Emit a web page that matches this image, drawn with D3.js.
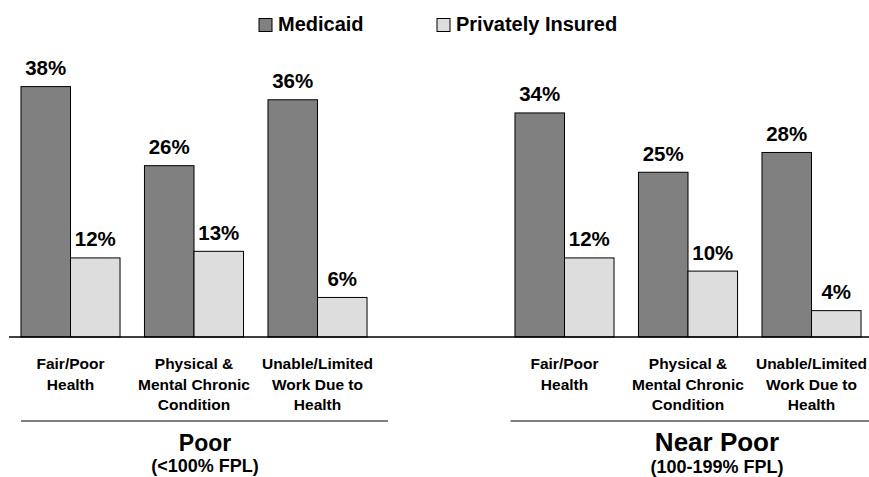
<!DOCTYPE html>
<html>
<head>
<meta charset="utf-8">
<script src="https://cdn.jsdelivr.net/npm/d3@7"></script>
<style>
  html, body { margin: 0; padding: 0; background: #ffffff; }
  svg { display: block; }
  text { font-family: "Liberation Sans", Arial, Helvetica, sans-serif; font-weight: bold; fill: #000; }
</style>
</head>
<body>
<svg id="chart" width="869" height="477"></svg>
<script>
// ---- data ----
const categories = [
  "Fair/Poor|Health",
  "Physical &|Mental Chronic|Condition",
  "Unable/Limited|Work Due to|Health",
  "",
  "Fair/Poor|Health",
  "Physical &|Mental Chronic|Condition",
  "Unable/Limited|Work Due to|Health"
];
const seriesNames = ["Medicaid", "Privately Insured"];
const medicaid = [38, 26, 36, null, 34, 25, 28];
const privatelyInsured = [12, 13, 6, null, 12, 10, 4];
const groupTitles = ["Poor", "Near Poor"];
const groupSubtitles = ["(<100% FPL)", "(100-199% FPL)"];

// ---- layout ----
const W = 869, H = 477;
const svg = d3.select("#chart");
const colors = { "Medicaid": "#808080", "Privately Insured": "#dddddd" };

const idx = d3.range(categories.length);
const x0 = d3.scaleBand().domain(idx).range([8.75, 873.25]).paddingInner(0.198).paddingOuter(0.099);
const x1 = d3.scaleBand().domain(seriesNames).range([0, x0.bandwidth()]);
const y = d3.scaleLinear().domain([0, 40]).range([337, 73.4]);

const seriesValues = { "Medicaid": medicaid, "Privately Insured": privatelyInsured };

// bars
const bars = [];
idx.forEach(i => {
  seriesNames.forEach(s => {
    const v = seriesValues[s][i];
    if (v != null) bars.push({ i, s, v });
  });
});

svg.append("g").selectAll("rect").data(bars).join("rect")
  .attr("x", d => x0(d.i) + x1(d.s))
  .attr("y", d => y(d.v))
  .attr("width", x1.bandwidth())
  .attr("height", d => y(0) - y(d.v))
  .attr("fill", d => colors[d.s])
  .attr("stroke", "#000")
  .attr("stroke-width", 1);

// value labels
svg.append("g").selectAll("text").data(bars).join("text")
  .attr("x", d => x0(d.i) + x1(d.s) + x1.bandwidth() / 2)
  .attr("y", d => y(d.v) - 11.5)
  .attr("text-anchor", "middle")
  .style("font-size", "20.5px")
  .text(d => d.v + "%");

// baseline axis
svg.append("line")
  .attr("x1", 9).attr("x2", W)
  .attr("y1", y(0)).attr("y2", y(0))
  .attr("stroke", "#000").attr("stroke-width", 1.5);

// category labels
const catG = svg.append("g");
idx.forEach(i => {
  if (!categories[i]) return;
  const lines = categories[i].split("|");
  const t = catG.append("text")
    .attr("text-anchor", "middle")
    .style("font-size", "15.5px");
  lines.forEach((ln, k) => {
    t.append("tspan")
      .attr("x", x0(i) + x0.bandwidth() / 2)
      .attr("y", 369 + k * 20.5)
      .text(ln);
  });
});

// group separators and titles
const groups = [
  { first: 0, last: 2, x1: x0(0), x2: x0(3) - 3.5, cx: 205, titleSize: 23 },
  { first: 4, last: 6, x1: x0(4) - 4.5, x2: W, cx: 717, titleSize: 26 }
];
groups.forEach((g, gi) => {
  svg.append("line")
    .attr("x1", g.x1).attr("x2", g.x2)
    .attr("y1", 421).attr("y2", 421)
    .attr("stroke", "#555").attr("stroke-width", 1.5);
  svg.append("text")
    .attr("x", g.cx).attr("y", 451)
    .attr("text-anchor", "middle")
    .style("font-size", g.titleSize + "px")
    .text(groupTitles[gi]);
  svg.append("text")
    .attr("x", g.cx).attr("y", gi === 0 ? 471.5 : 473)
    .attr("text-anchor", "middle")
    .style("font-size", "18px")
    .text(groupSubtitles[gi]);
});

// legend
const legendX = [259, 437];
const lg = svg.append("g");
seriesNames.forEach((s, k) => {
  lg.append("rect")
    .attr("x", legendX[k]).attr("y", 18.5)
    .attr("width", 13).attr("height", 13)
    .attr("fill", colors[s]).attr("stroke", "#000").attr("stroke-width", 1);
  lg.append("text")
    .attr("x", legendX[k] + 19).attr("y", 31)
    .style("font-size", "20px")
    .text(s);
});
</script>
</body>
</html>
